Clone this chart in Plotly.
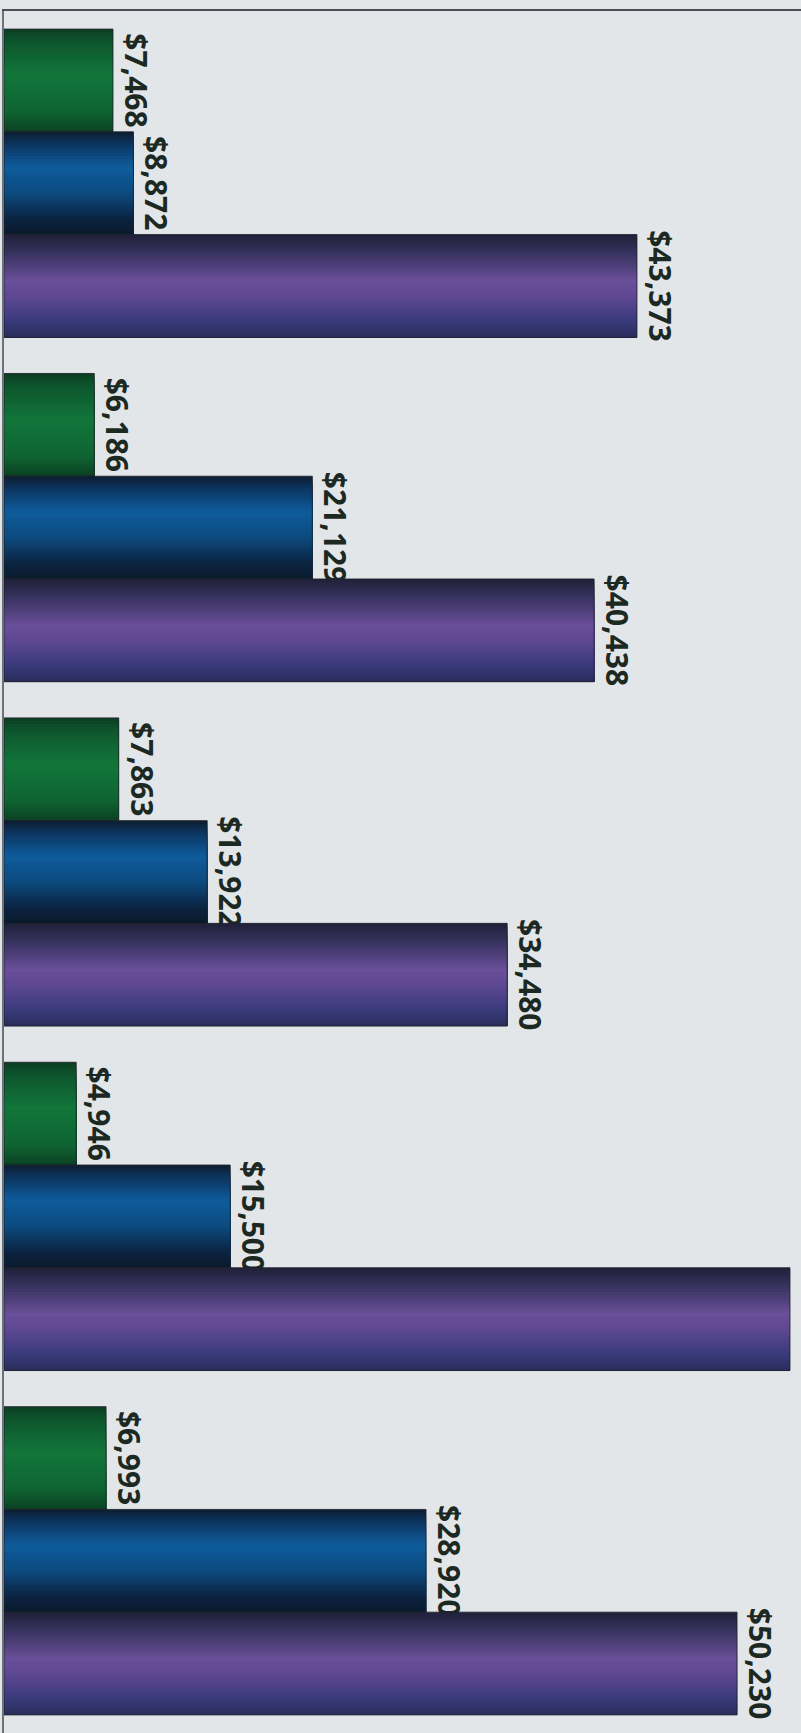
import plotly.graph_objects as go

# Five groups, three series each (values in dollars)
groups = ["G1", "G2", "G3", "G4", "G5"]
green_vals = [7468, 6186, 7863, 4946, 6993]
blue_vals = [8872, 21129, 13922, 15500, 28920]
purple_vals = [43373, 40438, 34480, 53860, 50230]
# the fourth purple bar runs past the edge, so its label is not shown
purple_labels = ["$43,373", "$40,438", "$34,480", "", "$50,230"]

# vertical shading of each bar: (position across bar 0..1, colour)
green_shade = [(0.0, "#0b3d22"), (0.12, "#0d552d"), (0.45, "#12763a"),
               (0.8, "#0f6432"), (1.0, "#0b4224")]
blue_shade = [(0.0, "#0c1d30"), (0.12, "#0d3560"), (0.35, "#0e5c9c"),
              (0.6, "#0c4a7e"), (0.85, "#0b2340"), (1.0, "#0a1a2c")]
purple_shade = [(0.0, "#1f2038"), (0.18, "#37335f"), (0.45, "#6a4f99"),
                (0.62, "#5c4790"), (0.85, "#383a7a"), (1.0, "#2a2d5a")]

series = [
    (green_vals, green_shade, None),
    (blue_vals, blue_shade, None),
    (purple_vals, purple_shade, purple_labels),
]


def hex_to_rgb(h):
    h = h.lstrip("#")
    return tuple(int(h[i:i + 2], 16) for i in (0, 2, 4))


def shade_at(stops, t):
    for (t0, c0), (t1, c1) in zip(stops, stops[1:]):
        if t0 <= t <= t1:
            f = 0 if t1 == t0 else (t - t0) / (t1 - t0)
            a, b = hex_to_rgb(c0), hex_to_rgb(c1)
            r = [round(a[i] + (b[i] - a[i]) * f) for i in range(3)]
            return "rgb(%d,%d,%d)" % tuple(r)
    return stops[-1][1]


group_width = 0.895
bar_w = group_width / 3
strips = 34

fig = go.Figure()
for s, (vals, shade, labels) in enumerate(series):
    top = -group_width / 2 + s * bar_w
    # layered strips, each running to the bottom edge, give a smooth shading
    for k in range(strips):
        start = top + k * bar_w / strips
        fig.add_trace(go.Bar(
            y=groups, x=vals, orientation="h",
            offset=start, width=top + bar_w - start,
            marker=dict(color=shade_at(shade, (k + 0.5) / strips),
                        line=dict(width=0)),
            hoverinfo="skip", showlegend=False,
        ))
    text = labels if labels is not None else ["${:,}".format(v) for v in vals]
    fig.add_trace(go.Bar(
        y=groups, x=vals, orientation="h",
        offset=top, width=bar_w,
        marker=dict(color="rgba(0,0,0,0)",
                    line=dict(color="rgba(30,34,44,0.85)", width=1)),
        text=text, textposition="outside", textangle=90,
        constraintext="none",
        textfont=dict(family="Open Sans", size=30, color="#1b2922",
                      weight="bold"),
        showlegend=False,
    ))

fig.update_layout(
    width=801, height=1733,
    margin=dict(l=4, r=0, t=11, b=0),
    barmode="overlay",
    paper_bgcolor="#e3e6e8",
    plot_bgcolor="#e3e6e8",
    font=dict(family="Open Sans"),
)
fig.update_xaxes(range=[0, 54615], showgrid=False, zeroline=False,
                 showticklabels=False, ticks="", side="top",
                 showline=True, linecolor="#4b5056", linewidth=2)
fig.update_yaxes(range=[4.5, -0.5], showgrid=False, zeroline=False,
                 showticklabels=False, ticks="",
                 showline=True, linecolor="#6d7278", linewidth=2)

fig.write_html("out.html")
